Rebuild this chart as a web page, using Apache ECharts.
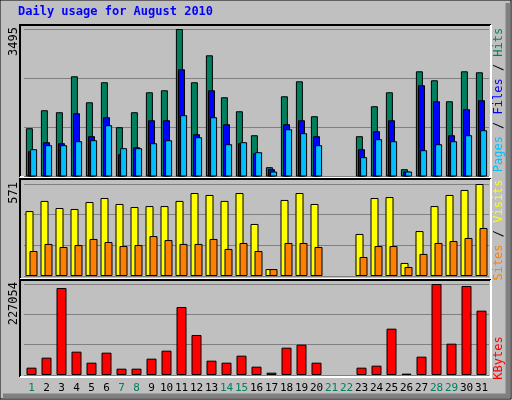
<!DOCTYPE html>
<html><head><meta charset="utf-8">
<script src="https://cdn.jsdelivr.net/npm/echarts@6/dist/echarts.min.js"></script>
<style>html,body{margin:0;padding:0;background:#c0c0c0}#c{width:512px;height:400px}</style>
</head><body><div id="c"></div>
<script>
const days = ['1','2','3','4','5','6','7','8','9','10','11','12','13','14','15','16','17','18','19','20','21','22','23','24','25','26','27','28','29','30','31'];
const weekend = ['1','7','8','14','15','21','22','28','29'];
const hits  = [1144,1570,1523,2375,1759,2233,1168,1523,1996,2043,3495,2233,2872,1878,1546,978,221,1901,2256,1428,0,0,955,1665,1996,174,2493,2280,1783,2493,2470];
const files = [600,813,789,1499,955,1404,529,694,1333,1333,2540,1002,2043,1239,789,552,174,1239,1333,955,0,0,647,1073,1333,118,2162,1783,978,1594,1807];
const pages = [647,742,742,836,860,1215,671,671,789,860,1452,931,1404,765,813,576,118,1120,1026,742,0,0,458,884,836,118,623,765,836,978,1097];
const visits= [403,466,422,416,459,484,447,428,434,434,466,515,503,466,515,323,43,472,515,447,0,0,261,484,490,81,279,434,503,534,571];
const sites = [155,199,180,192,230,211,186,192,248,223,199,199,230,168,205,155,43,205,205,180,0,0,118,186,186,56,137,205,217,236,298];
const kbytes= [18297,43248,217074,58219,30773,55724,15802,15802,40753,60714,169667,99804,35763,30773,48239,20793,5822,68199,75685,30773,0,0,18297,23288,115606,3327,45744,227054,78180,222064,160518];
const maxHits = 3495, maxVisits = 571, maxKB = 227054;

const mono = 'DejaVu Sans Mono';
const bs = {borderColor:'#000',borderWidth:1};
const nz = a => a.map(v => v === 0 ? null : v);
const grids = [
  {left:24, width:465, top:29, height:147.5},
  {left:24, width:465, top:184, height:92},
  {left:24, width:465, top:284, height:91}
];
function xa(i, show){
  return {type:'category', gridIndex:i, data:days, axisLine:{show:false}, axisTick:{show:false},
    axisLabel: show ? {show:true, interval:0, margin:8, fontFamily:mono, fontSize:11,
      color: (v)=> weekend.includes(v) ? '#00805f' : '#000'} : {show:false}};
}
function ya(i, max){
  return {type:'value', gridIndex:i, min:0, max:max, interval:max/3, axisLabel:{show:false},
    axisLine:{show:false}, axisTick:{show:false}, splitLine:{show:true, lineStyle:{color:'#808080', width:1}}};
}
function panel(y, h){
  return [
    {type:'rect', shape:{x:20,y:y,width:471,height:h}, style:{fill:'#c0c0c0', stroke:null}, z:-10},
    {type:'polyline', shape:{points:[[20,y+h],[20,y],[491,y]]}, style:{stroke:'#000', lineWidth:2, fill:null}, z:-9},
    {type:'polyline', shape:{points:[[20,y+h],[491,y+h],[491,y]]}, style:{stroke:'#fff', lineWidth:2, fill:null}, z:-9}
  ];
}
function vtext(x, y, rich, text, align){
  return {type:'text', x:x, y:y, rotation:Math.PI/2, style:{text:text, rich:rich, align:align, verticalAlign:'middle',
    font:'12px '+mono}, z:10};
}
const chart = echarts.init(document.getElementById('c'));
chart.setOption({
  animation:false,
  backgroundColor:'#c0c0c0',
  graphic:[
    {type:'rect', shape:{x:0,y:0,width:511,height:399}, style:{fill:'#c0c0c0', stroke:'#000', lineWidth:1}, z:-20},
    {type:'polyline', shape:{points:[[3,396],[508,396],[508,3]]}, style:{stroke:'#808080', lineWidth:5, fill:null}, z:-19},
    ...panel(25,152), ...panel(179,100), ...panel(280,97),
    {type:'text', x:18, y:6, style:{text:'Daily usage for August 2010', font:'bold 12px '+mono, fill:'#0000ff'}},
    vtext(14, 27, {}, '3495', 'right'),
    vtext(14, 182, {}, '571', 'right'),
    vtext(14, 282, {}, '227054', 'right'),
    vtext(499, 100, {p:{fill:'#00c0ff'}, f:{fill:'#0000ff'}, h:{fill:'#00805f'}, s:{fill:'#000'}},
      '{p|Pages}{s| / }{f|Files}{s| / }{h|Hits}', 'center'),
    vtext(499, 230, {o:{fill:'#ff8000'}, y:{fill:'#ffff00'}, s:{fill:'#000'}},
      '{o|Sites}{s| / }{y|Visits}', 'center'),
    {type:'text', x:499, y:358, rotation:Math.PI/2, style:{text:'KBytes', fill:'#ff0000', align:'center', verticalAlign:'middle', font:'12px '+mono}}
  ],
  grid:grids,
  xAxis:[xa(0,false), xa(1,false), xa(2,true)],
  yAxis:[ya(0,maxHits), ya(1,maxVisits), ya(2,maxKB)],
  series:[
    {name:'Hits', type:'bar', xAxisIndex:0, yAxisIndex:0, data:nz(hits), barWidth:7, barGap:'-70%', itemStyle:{color:'#00805f',...bs}},
    {name:'Files', type:'bar', xAxisIndex:0, yAxisIndex:0, data:nz(files), barWidth:7, barGap:'-70%', itemStyle:{color:'#0000ff',...bs}},
    {name:'Pages', type:'bar', xAxisIndex:0, yAxisIndex:0, data:nz(pages), barWidth:7, barGap:'-70%', itemStyle:{color:'#00c0ff',...bs}},
    {name:'Visits', type:'bar', xAxisIndex:1, yAxisIndex:1, data:nz(visits), barWidth:8, barGap:'-50%', itemStyle:{color:'#ffff00',...bs}},
    {name:'Sites', type:'bar', xAxisIndex:1, yAxisIndex:1, data:nz(sites), barWidth:8, barGap:'-50%', itemStyle:{color:'#ff8000',...bs}},
    {name:'KBytes', type:'bar', xAxisIndex:2, yAxisIndex:2, data:nz(kbytes), barWidth:10, itemStyle:{color:'#ff0000',...bs}}
  ]
});
</script></body></html>
